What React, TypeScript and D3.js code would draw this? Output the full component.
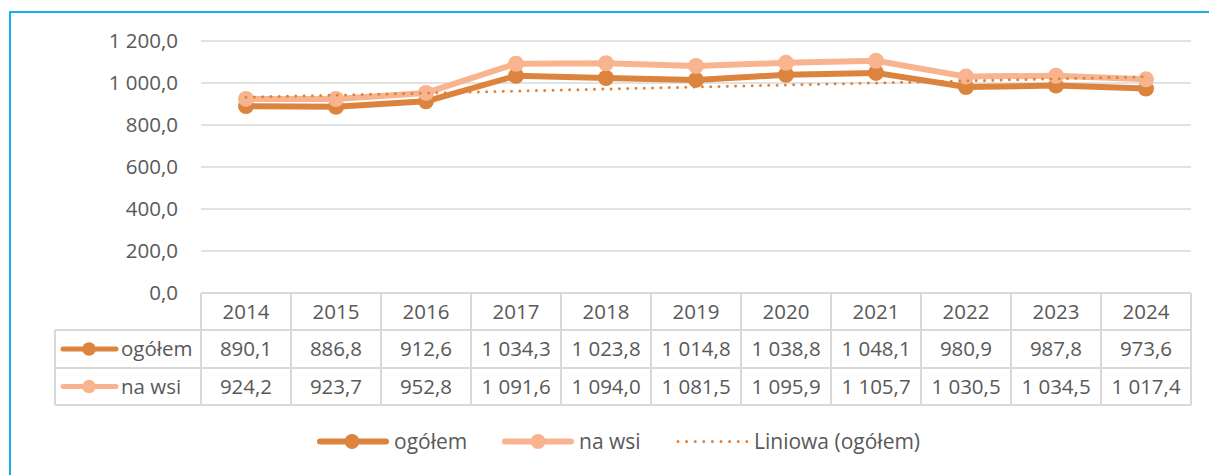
import React from "react";
import * as d3 from "d3";

const years = ["2014", "2015", "2016", "2017", "2018", "2019", "2020", "2021", "2022", "2023", "2024"];
const ogolem = [890.1, 886.8, 912.6, 1034.3, 1023.8, 1014.8, 1038.8, 1048.1, 980.9, 987.8, 973.6];
const naWsi = [924.2, 923.7, 952.8, 1091.6, 1094.0, 1081.5, 1095.9, 1105.7, 1030.5, 1034.5, 1017.4];
const yTicks = [0, 200, 400, 600, 800, 1000, 1200];
const seriesNames = ["ogółem", "na wsi"];
const trendName = "Liniowa (ogółem)";

const C_DARK = "#DC843E";
const C_LIGHT = "#F8B48E";
const TXT = "#595959";
const GRID = "#D9D9D9";
const FONT = "'Open Sans', sans-serif";

const fmt = (v: number) => {
  const s = v.toFixed(1).replace(".", ",");
  const [i, d] = s.split(",");
  const ii = i.replace(/\B(?=(\d{3})+(?!\d))/g, " ");
  return ii + "," + d;
};

export default function App() {
  const left = 201;
  const colW = 90;
  const right = left + colW * years.length;
  const yTop = 41;
  const yBot = 293;
  const x = d3.scaleBand().domain(years).range([left, right]);
  const y = d3.scaleLinear().domain([0, 1200]).range([yBot, yTop]);
  const cx = (yr: string) => (x(yr) as number) + x.bandwidth() / 2;

  const line = d3
    .line<number>()
    .x((_, i) => cx(years[i]))
    .y((d) => y(d));

  // linear trend (Excel "Liniowa")
  const n = ogolem.length;
  const idx = d3.range(1, n + 1);
  const mx = d3.mean(idx) as number;
  const my = d3.mean(ogolem) as number;
  const slope =
    d3.sum(idx.map((v, i) => (v - mx) * (ogolem[i] - my))) /
    d3.sum(idx.map((v) => (v - mx) * (v - mx)));
  const icpt = my - slope * mx;
  const trend = idx.map((v) => icpt + slope * v);

  const rowH = [293, 330, 368, 405];
  const tableLeft = 55;
  const fs = 20.5;
  const lfs = 21;
  const ly = 441.5;

  return (
    <svg
      width={1209}
      height={475}
      style={{ position: "absolute", left: 0, top: 0, display: "block", background: "#fff" }}
      fontFamily={FONT}
    >
      <rect x={10} y={12} width={1260} height={520} fill="#fff" stroke="#14AEEA" strokeWidth={2} />

      {/* grid */}
      {yTicks.map((t) => (
        <g key={t}>
          {t > 0 && <line x1={left} x2={right} y1={y(t)} y2={y(t)} stroke={GRID} strokeWidth={1.5} />}
          <text x={178} y={y(t)} dy="0.35em" textAnchor="end" fontSize={fs} fill={TXT}>
            {fmt(t)}
          </text>
        </g>
      ))}

      {/* series */}
      <path d={line(ogolem) as string} fill="none" stroke={C_DARK} strokeWidth={6} strokeLinejoin="round" />
      {ogolem.map((v, i) => (
        <circle key={"o" + i} cx={cx(years[i])} cy={y(v)} r={8} fill={C_DARK} />
      ))}
      <path d={line(naWsi) as string} fill="none" stroke={C_LIGHT} strokeWidth={6} strokeLinejoin="round" />
      {naWsi.map((v, i) => (
        <circle key={"w" + i} cx={cx(years[i])} cy={y(v)} r={8} fill={C_LIGHT} />
      ))}
      <path
        d={line(trend) as string}
        fill="none"
        stroke={C_DARK}
        strokeWidth={3}
        strokeDasharray="0 8.3"
        strokeLinecap="round"
      />

      {/* data table */}
      <g stroke={GRID} strokeWidth={2} fill="none">
        <line x1={left} x2={right} y1={rowH[0]} y2={rowH[0]} />
        <line x1={tableLeft} x2={right} y1={rowH[1]} y2={rowH[1]} />
        <line x1={tableLeft} x2={right} y1={rowH[2]} y2={rowH[2]} />
        <line x1={tableLeft} x2={right} y1={rowH[3]} y2={rowH[3]} />
        <line x1={tableLeft} x2={tableLeft} y1={rowH[1]} y2={rowH[3]} />
        {years.map((yr) => (
          <line key={yr} x1={x(yr) as number} x2={x(yr) as number} y1={rowH[0]} y2={rowH[3]} />
        ))}
        <line x1={right} x2={right} y1={rowH[0]} y2={rowH[3]} />
      </g>
      {years.map((yr) => (
        <text key={"h" + yr} x={cx(yr)} y={(rowH[0] + rowH[1]) / 2} dy="0.35em" textAnchor="middle" fontSize={fs} fill={TXT}>
          {yr}
        </text>
      ))}
      {[ogolem, naWsi].map((arr, r) => (
        <g key={"r" + r}>
          <line x1={63} x2={116} y1={(rowH[r + 1] + rowH[r + 2]) / 2} y2={(rowH[r + 1] + rowH[r + 2]) / 2} stroke={r === 0 ? C_DARK : C_LIGHT} strokeWidth={5} strokeLinecap="round" />
          <circle cx={89} cy={(rowH[r + 1] + rowH[r + 2]) / 2} r={6.8} fill={r === 0 ? C_DARK : C_LIGHT} />
          <text x={121} y={(rowH[r + 1] + rowH[r + 2]) / 2} dy="0.35em" fontSize={fs} fill={TXT}>
            {seriesNames[r]}
          </text>
          {arr.map((v, i) => (
            <text key={i} x={cx(years[i])} y={(rowH[r + 1] + rowH[r + 2]) / 2} dy="0.35em" textAnchor="middle" fontSize={fs} fill={TXT}>
              {fmt(v)}
            </text>
          ))}
        </g>
      ))}

      {/* legend */}
      <g>
        <line x1={320} x2={386} y1={ly} y2={ly} stroke={C_DARK} strokeWidth={6} strokeLinecap="round" />
        <circle cx={352} cy={ly} r={7.5} fill={C_DARK} />
        <text x={394} y={ly} dy="0.35em" fontSize={lfs} fill={TXT}>{seriesNames[0]}</text>
        <line x1={505} x2={571} y1={ly} y2={ly} stroke={C_LIGHT} strokeWidth={6} strokeLinecap="round" />
        <circle cx={538} cy={ly} r={7.5} fill={C_LIGHT} />
        <text x={579} y={ly} dy="0.35em" fontSize={lfs} fill={TXT}>{seriesNames[1]}</text>
        <line x1={678} x2={747} y1={ly} y2={ly} stroke={C_DARK} strokeWidth={3} strokeDasharray="0 8.6" strokeLinecap="round" />
        <text x={754} y={ly} dy="0.35em" fontSize={lfs} fill={TXT}>{trendName}</text>
      </g>
    </svg>
  );
}
